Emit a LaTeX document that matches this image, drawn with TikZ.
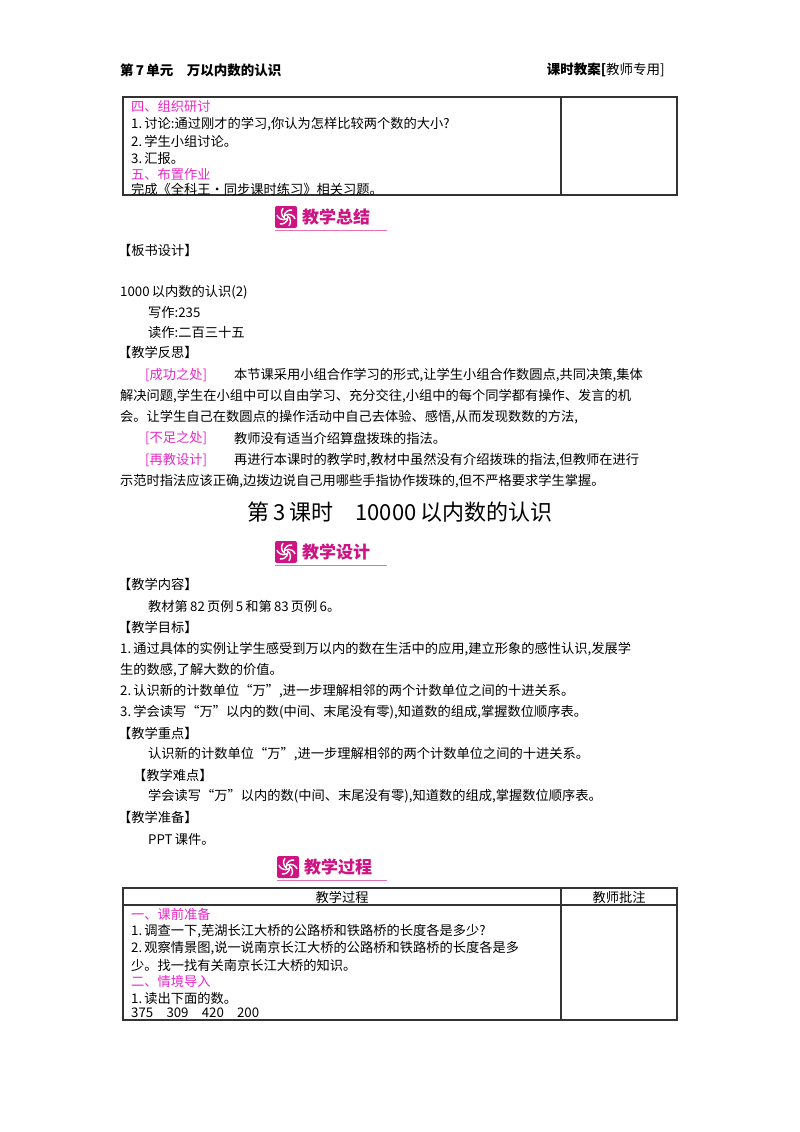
\documentclass[tikz,border=0pt]{standalone}
\usepackage{fontspec}
\setmainfont{Noto Sans CJK SC}
\definecolor{mag}{RGB}{230,40,200}
\definecolor{badge}{RGB}{205,20,130}
\begin{document}
\begin{tikzpicture}[x=1pt,y=-1pt,
  txt/.style={anchor=west,inner sep=0pt,font=\fontsize{13.25}{15}\selectfont},
  mtxt/.style={txt,text=mag},
  hdr/.style={anchor=west,inner sep=0pt,font=\fontsize{13.5}{15}\selectfont\bfseries},
  tbl/.style={draw=black!80,line width=1.1pt},
  bdg/.style={anchor=west,inner sep=0pt,text=badge,font=\fontsize{17}{19}\selectfont\bfseries}]
\useasboundingbox (0,0) rectangle (800,1132);
% header
\node[hdr] (h1) at (120,70) {第\,7\,单元\quad 万以内数的认识};
\node[hdr,anchor=east] (h2) at (665,70) {课时教案[\mdseries 教师专用]};
% table 1
\draw[tbl] (123,97) rectangle (677,195);
\draw[tbl] (561,97) -- (561,195);
\node[mtxt] (a1) at (131,106) {四、组织研讨};
\node[txt] (a2) at (131,124) {1.\,讨论:通过刚才的学习,你认为怎样比较两个数的大小?};
\node[txt] (a3) at (131,141) {2.\,学生小组讨论。};
\node[txt] (a4) at (131,158) {3.\,汇报。};
\node[mtxt] (a5) at (131,174) {五、布置作业};
\node[txt] (a6) at (131,189) {完成《全科王·同步课时练习》相关习题。};
% badge 1
\fill[badge,rounded corners=2pt] (275,206) rectangle (297,228);
\foreach \a in {0,60,...,300}{\draw[white,line width=1.4pt] (286,217) ++(\a:2) arc[start angle=\a,end angle=\a+100,radius=7];}
\node[bdg] (b1) at (302,217) {教学总结};
\draw[badge!60,line width=0.8pt] (275,230) -- (387,230);
\node[txt] (c1) at (118,250) {【板书设计】};
\node[txt] (c2) at (120,292) {1000\,以内数的认识(2)};
\node[txt] (c3) at (148,312) {写作:235};
\node[txt] (c4) at (148,332) {读作:二百三十五};
\node[txt] (c5) at (118,352) {【教学反思】};
\node[mtxt] (c6) at (145,375) {[成功之处]};
\node[txt] (c7) at (234,375) {本节课采用小组合作学习的形式,让学生小组合作数圆点,共同决策,集体};
\node[txt] (c8) at (120,396) {解决问题,学生在小组中可以自由学习、充分交往,小组中的每个同学都有操作、发言的机};
\node[txt] (c9) at (120,417) {会。让学生自己在数圆点的操作活动中自己去体验、感悟,从而发现数数的方法,};
\node[mtxt] (c10) at (145,438) {[不足之处]};
\node[txt] (c11) at (234,438) {教师没有适当介绍算盘拨珠的指法。};
\node[mtxt] (c12) at (145,460) {[再教设计]};
\node[txt] (c13) at (234,460) {再进行本课时的教学时,教材中虽然没有介绍拨珠的指法,但教师在进行};
\node[txt] (c14) at (120,481) {示范时指法应该正确,边拨边说自己用哪些手指协作拨珠的,但不严格要求学生掌握。};
\node[inner sep=0pt,font=\fontsize{22}{24}\selectfont] (t) at (400,512) {第\,3\,课时\quad 10000\,以内数的认识};
% badge 2
\fill[badge,rounded corners=2pt] (275,541) rectangle (297,563);
\foreach \a in {0,60,...,300}{\draw[white,line width=1.4pt] (286,552) ++(\a:2) arc[start angle=\a,end angle=\a+100,radius=7];}
\node[bdg] (b2) at (302,552) {教学设计};
\draw[badge!60,line width=0.8pt] (275,565) -- (387,565);
\node[txt] (d1) at (118,584) {【教学内容】};
\node[txt] (d2) at (148,606) {教材第\,82\,页例\,5\,和第\,83\,页例\,6。};
\node[txt] (d3) at (118,627) {【教学目标】};
\node[txt] (d4) at (120,649) {1.\,通过具体的实例让学生感受到万以内的数在生活中的应用,建立形象的感性认识,发展学};
\node[txt] (d5) at (120,670) {生的数感,了解大数的价值。};
\node[txt] (d6) at (120,691) {2.\,认识新的计数单位“万”,进一步理解相邻的两个计数单位之间的十进关系。};
\node[txt] (d7) at (120,712) {3.\,学会读写“万”以内的数(中间、末尾没有零),知道数的组成,掌握数位顺序表。};
\node[txt] (d8) at (118,733) {【教学重点】};
\node[txt] (d9) at (148,754) {认识新的计数单位“万”,进一步理解相邻的两个计数单位之间的十进关系。};
\node[txt] (d10) at (133,775) {【教学难点】};
\node[txt] (d11) at (148,796) {学会读写“万”以内的数(中间、末尾没有零),知道数的组成,掌握数位顺序表。};
\node[txt] (d12) at (118,817) {【教学准备】};
\node[txt] (d13) at (148,839) {PPT\,课件。};
% badge 3
\fill[badge,rounded corners=2pt] (277,856) rectangle (299,878);
\foreach \a in {0,60,...,300}{\draw[white,line width=1.4pt] (288,867) ++(\a:2) arc[start angle=\a,end angle=\a+100,radius=7];}
\node[bdg] (b3) at (304,867) {教学过程};
\draw[badge!60,line width=0.8pt] (277,880) -- (387,880);
% table 2
\draw[tbl] (123,888) rectangle (677,1020);
\draw[tbl] (561,888) -- (561,1020);
\draw[tbl] (123,905) -- (677,905);
\node[inner sep=0pt,font=\fontsize{13.25}{15}\selectfont] (e0) at (342,897) {教学过程};
\node[inner sep=0pt,font=\fontsize{13.25}{15}\selectfont] (e00) at (619,897) {教师批注};
\node[mtxt] (e1) at (131,914) {一、课前准备};
\node[txt] (e2) at (131,931) {1.\,调查一下,芜湖长江大桥的公路桥和铁路桥的长度各是多少?};
\node[txt] (e3) at (131,948) {2.\,观察情景图,说一说南京长江大桥的公路桥和铁路桥的长度各是多};
\node[txt] (e4) at (131,965) {少。找一找有关南京长江大桥的知识。};
\node[mtxt] (e5) at (131,981) {二、情境导入};
\node[txt] (e6) at (131,998) {1.\,读出下面的数。};
\node[txt] (e7) at (131,1013) {375\quad 309\quad 420\quad 200};
\end{tikzpicture}
\end{document}
